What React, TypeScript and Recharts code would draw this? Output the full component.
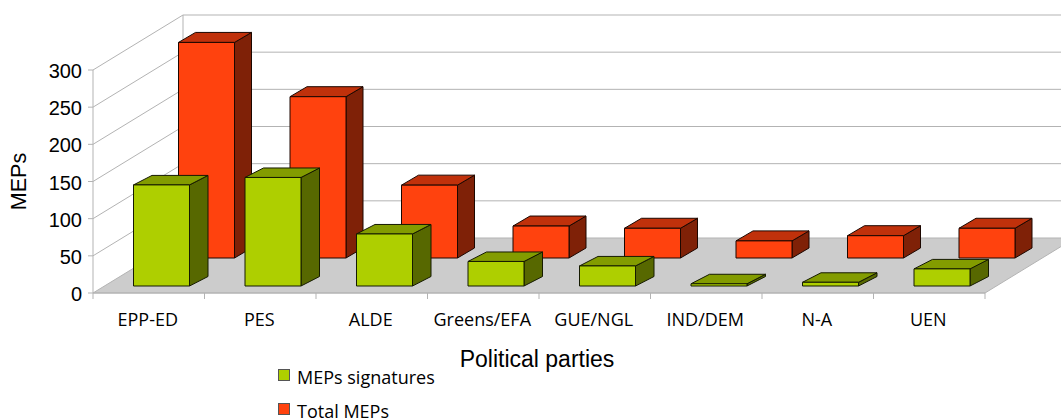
import React from 'react';
import { BarChart, Bar, XAxis, YAxis, Legend, CartesianGrid } from 'recharts';

const parties = ['EPP-ED', 'PES', 'ALDE', 'Greens/EFA', 'GUE/NGL', 'IND/DEM', 'N-A', 'UEN'];
const signatures = [136, 146, 70, 33, 27, 3, 5, 23];
const totalMeps = [290, 217, 98, 43, 40, 23, 30, 40];
const yTicks = [0, 50, 100, 150, 200, 250, 300];

const data = parties.map((name, i) => ({ name, signatures: signatures[i], total: totalMeps[i] }));

const NUM_FONT = '"Liberation Sans", Arial, sans-serif';
const CAT_FONT = '"Open Sans", sans-serif';
const GRID = '#b3b3b3';
const FLOOR = '#cccccc';

// how far the back wall sits from the front of the fake 3D box
const WALL_DX = 90;
const WALL_DY = -55;
const PLOT_TOP = 70;
const PLOT_BOTTOM = 293;
const BAND = 111.5;

// one grid line of the fake box: side wall diagonal + back wall line (floor for the zero line)
const WallLine = ({ x1, y1, x2, y2 }: any) => {
  const isFloor = Math.abs(y1 - PLOT_BOTTOM) < 1;
  const isTop = Math.abs(y1 - PLOT_TOP) < 1;
  return (
    <g>
      {isFloor && (
        <polygon
          points={`${x1},${y1} ${x1 + WALL_DX},${y1 + WALL_DY} ${x2 + WALL_DX},${y2 + WALL_DY} ${x2},${y2}`}
          fill={FLOOR}
          stroke={GRID}
        />
      )}
      {isTop && (
        <>
          <line x1={x1} y1={PLOT_TOP} x2={x1} y2={PLOT_BOTTOM} stroke={GRID} />
          <line x1={x1 + WALL_DX} y1={PLOT_TOP + WALL_DY} x2={x1 + WALL_DX} y2={PLOT_BOTTOM + WALL_DY} stroke={GRID} />
        </>
      )}
      {!isFloor && (
        <>
          <line x1={x1} y1={y1} x2={x1 + WALL_DX} y2={y1 + WALL_DY} stroke={GRID} />
          <line x1={x1 + WALL_DX} y1={y1 + WALL_DY} x2={x2 + WALL_DX} y2={y2 + WALL_DY} stroke={GRID} />
        </>
      )}
    </g>
  );
};

const PartyTick = ({ x, y, payload, index }: any) => {
  const edge = x + BAND / 2;
  return (
    <g>
      {index === 0 && <line x1={x - BAND / 2} y1={y - 8} x2={x - BAND / 2} y2={y - 2} stroke={GRID} />}
      <line x1={edge} y1={y - 8} x2={edge} y2={y - 2} stroke={GRID} />
      <text x={x - 1} y={y} dy={25} textAnchor="middle" fontSize={18} fontFamily={CAT_FONT} fill="#000">
        {payload.value}
      </text>
    </g>
  );
};

const Box3D = ({ x, y, width, height, fill, side, top, line, dx, dy, depthX, depthY }: any) => {
  const l = x + dx;
  const r = l + width;
  const t = y + dy;
  const b = t + height;
  return (
    <g stroke={line} strokeWidth={1} strokeLinejoin="round">
      <polygon points={`${r},${t} ${r + depthX},${t + depthY} ${r + depthX},${b + depthY} ${r},${b}`} fill={side} />
      <polygon points={`${l},${t} ${l + depthX},${t + depthY} ${r + depthX},${t + depthY} ${r},${t}`} fill={top} />
      <rect x={l} y={t} width={width} height={height} fill={fill} />
    </g>
  );
};

const renderLegend = ({ payload }: any) => (
  <div>
    {(payload || []).map((item: any) => (
      <div key={item.value} style={{ display: 'flex', alignItems: 'center', height: 34 }}>
        <span
          style={{
            display: 'inline-block',
            width: 10,
            height: 10,
            background: item.color,
            border: '1px solid #555',
            marginRight: 7,
            marginLeft: 1,
            position: 'relative',
            top: -2,
          }}
        />
        <span style={{ fontFamily: CAT_FONT, fontSize: 18, color: '#000', lineHeight: 1 }}>{item.value}</span>
      </div>
    ))}
  </div>
);

export default function App() {
  return (
    <div style={{ position: 'absolute', left: 0, top: 0, width: 1061, height: 419, overflow: 'hidden', background: '#fff' }}>
      <BarChart
        width={1061}
        height={419}
        data={data}
        barSize={56}
        barGap={-56}
        margin={{ top: 70, right: 76, bottom: 0, left: 0 }}
      >
        <CartesianGrid vertical={false} horizontal={WallLine} horizontalValues={yTicks} stroke={GRID} />
        <YAxis
          width={93}
          domain={[0, 300]}
          ticks={yTicks}
          interval={0}
          tickSize={5}
          tickMargin={6}
          tickLine={{ stroke: GRID }}
          axisLine={false}
          tick={{ fontFamily: NUM_FONT, fontSize: 20, fill: '#000', dy: 1 }}
          label={{
            value: 'MEPs',
            angle: -90,
            position: 'insideLeft',
            offset: 18,
            style: { fontFamily: NUM_FONT, fontSize: 21.5, fill: '#000', textAnchor: 'middle' },
          }}
        />
        <XAxis
          dataKey="name"
          height={126}
          interval={0}
          tickLine={false}
          axisLine={{ stroke: GRID }}
          tick={PartyTick}
          label={{
            value: 'Political parties',
            position: 'insideTop',
            offset: 58,
            dx: -2,
            style: { fontFamily: NUM_FONT, fontSize: 23, fill: '#000' },
          }}
        />
        <Legend
          layout="horizontal"
          verticalAlign="middle"
          content={renderLegend}
          wrapperStyle={{ left: 277, top: 360, width: 220 }}
        />
        <Bar
          dataKey="total"
          name="Total MEPs"
          fill="#ff420e"
          isAnimationActive={false}
          shape={(p: any) => (
            <Box3D {...p} fill="#ff420e" side="#7f2107" top="#c0310b" line="#1c0700" dx={57.5} dy={-35} depthX={17} depthY={-10} />
          )}
        />
        <Bar
          dataKey="signatures"
          name="MEPs signatures"
          fill="#aecf00"
          isAnimationActive={false}
          shape={(p: any) => (
            <Box3D {...p} fill="#aecf00" side="#576800" top="#839c00" line="#151a00" dx={12.5} dy={-7} depthX={18.5} depthY={-9.5} />
          )}
        />
      </BarChart>
    </div>
  );
}
